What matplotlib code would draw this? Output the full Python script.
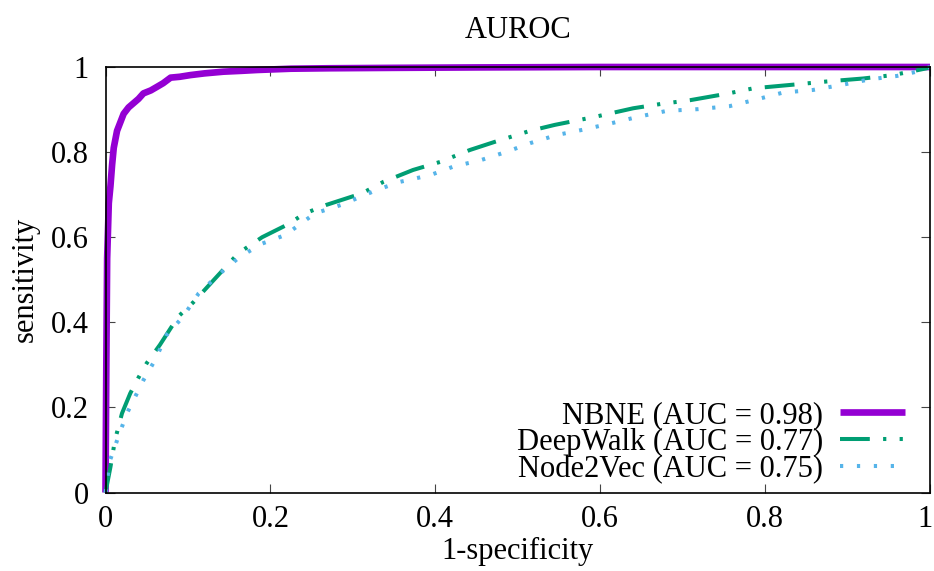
import matplotlib
matplotlib.use("Agg")
import matplotlib.pyplot as plt
from matplotlib.transforms import ScaledTranslation

# ---- data ----
nbne_x = [0, 0.001, 0.002, 0.004, 0.006, 0.008, 0.010, 0.014, 0.018, 0.022, 0.028, 0.034,
          0.040, 0.046, 0.055, 0.063, 0.070, 0.079, 0.090, 0.103, 0.120, 0.143, 0.165,
          0.184, 0.225, 0.27, 0.35, 0.45, 0.6, 0.8, 1.0]
nbne_y = [0, 0.30, 0.55, 0.68, 0.72, 0.77, 0.81, 0.85, 0.87, 0.89, 0.905, 0.915,
          0.925, 0.938, 0.945, 0.954, 0.962, 0.975, 0.977, 0.981, 0.985, 0.989, 0.991,
          0.993, 0.996, 0.997, 0.998, 0.999, 1.0, 1.0, 1.0]

deepwalk_x = [0, 0.002, 0.006, 0.0115, 0.02, 0.03, 0.040, 0.050, 0.066, 0.088, 0.107, 0.133,
              0.161, 0.19, 0.220, 0.242, 0.268, 0.311, 0.337, 0.373, 0.406, 0.442, 0.472,
              0.515, 0.545, 0.594, 0.640, 0.673, 0.709, 0.753, 0.786, 0.837, 0.875, 0.919,
              0.955, 0.976, 0.996, 1.0]
deepwalk_y = [0, 0.02, 0.06, 0.123, 0.186, 0.233, 0.27, 0.304, 0.347, 0.413, 0.448, 0.503,
              0.562, 0.60, 0.629, 0.656, 0.676, 0.703, 0.730, 0.758, 0.777, 0.805, 0.824,
              0.850, 0.864, 0.883, 0.903, 0.913, 0.922, 0.937, 0.950, 0.959, 0.966, 0.973,
              0.981, 0.989, 0.997, 1.0]

node2vec_x = [0, 0.002, 0.0055, 0.0115, 0.0155, 0.026, 0.036, 0.046, 0.060, 0.074, 0.094,
              0.113, 0.139, 0.163, 0.19, 0.218, 0.254, 0.286, 0.329, 0.357, 0.394, 0.422,
              0.455, 0.487, 0.515, 0.547, 0.580, 0.614, 0.646, 0.681, 0.719, 0.757, 0.790,
              0.822, 0.858, 0.893, 0.927, 0.960, 0.984, 0.996, 1.0]
node2vec_y = [0, 0.03, 0.076, 0.108, 0.131, 0.186, 0.225, 0.264, 0.311, 0.370, 0.413,
              0.468, 0.515, 0.554, 0.585, 0.605, 0.656, 0.676, 0.711, 0.730, 0.746, 0.766,
              0.781, 0.801, 0.821, 0.840, 0.853, 0.868, 0.883, 0.897, 0.901, 0.908, 0.924,
              0.940, 0.946, 0.958, 0.971, 0.979, 0.989, 0.997, 1.0]

labels = ["NBNE (AUC = 0.98)", "DeepWalk (AUC = 0.77)", "Node2Vec (AUC = 0.75)"]
tick_vals = [0, 0.2, 0.4, 0.6, 0.8, 1]
tick_labels = ["0", "0.2", "0.4", "0.6", "0.8", "1"]

# ---- style ----
plt.rcParams['font.family'] = ['Liberation Serif', 'DejaVu Serif']
FS = 22

fig = plt.figure(figsize=(9.34, 5.71), dpi=100)
ax = fig.add_axes([105.5 / 934, 1 - 492.5 / 571, 824.5 / 934, 425.5 / 571])

ax.plot(nbne_x, nbne_y, color='#9400d3', lw=4.8, solid_capstyle='butt',
        clip_on=False, label=labels[0])
ax.plot(deepwalk_x, deepwalk_y, color='#009e73', lw=2.9,
        linestyle=(0, (7.4, 3.3, 0.8, 3.3, 0.8, 3.3)), dash_capstyle='butt',
        clip_on=False, label=labels[1])
ax.plot(node2vec_x, node2vec_y, color='#56b4e9', lw=2.9,
        linestyle=(0, (0.8, 3.4)), dash_capstyle='butt',
        clip_on=False, label=labels[2])

ax.set_xlim(0, 1)
ax.set_ylim(0, 1)
ax.set_xticks(tick_vals)
ax.set_xticklabels(tick_labels)
ax.set_yticks(tick_vals)
ax.set_yticklabels(tick_labels)
ax.tick_params(direction='in', length=6.5, width=0.8, color='#444444',
               top=True, right=True, labelsize=FS)
ax.tick_params(axis='x', pad=9)
ax.tick_params(axis='y', pad=12)
for s in ax.spines.values():
    s.set_linewidth(1.2)

# keep the last x tick label inside the canvas
last = ax.get_xticklabels()[-1]
last.set_horizontalalignment('right')
last.set_transform(last.get_transform() + ScaledTranslation(3 / 100, 0, fig.dpi_scale_trans))

ax.set_title("AUROC", fontsize=FS, pad=21)
ax.set_xlabel("1-specificity", fontsize=FS, labelpad=2)
ax.set_ylabel("sensitivity", fontsize=FS, labelpad=8)

ax.legend(loc='lower right', bbox_to_anchor=(0.97, 0.02), frameon=False,
          markerfirst=False, fontsize=FS, handlelength=2.13, handletextpad=0.55,
          labelspacing=-0.07, borderpad=0, borderaxespad=0)

fig.savefig("out.png", dpi=100)
